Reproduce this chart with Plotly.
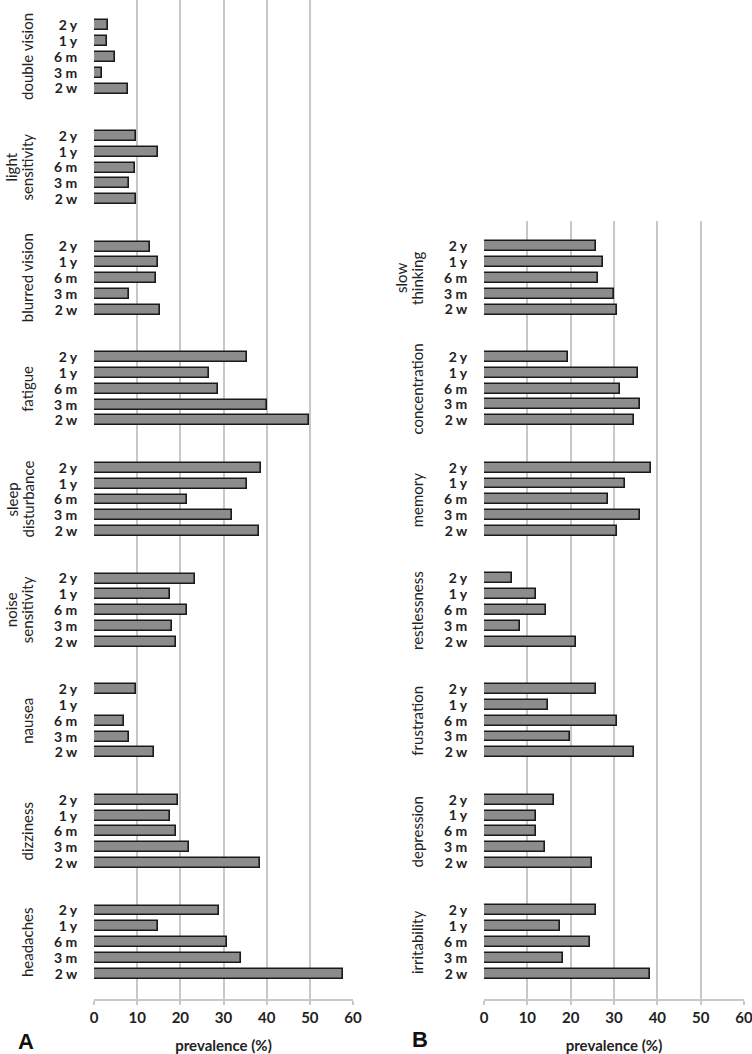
import plotly.graph_objects as go

W, H = 752, 1054
MB = 55
PH = H - MB

timepoints = ["2 w", "3 m", "6 m", "1 y", "2 y"]

# Panel A groups (bottom to top)
groups_a = ["headaches", "dizziness", "nausea", "noise|sensitivity", "sleep|disturbance",
            "fatigue", "blurred vision", "light|sensitivity", "double vision"]
headaches = [57.6, 34.0, 30.9, 14.9, 29.0]
dizziness = [38.4, 22.1, 19.1, 17.5, 19.4]
nausea = [13.8, 8.1, 7.0, 0, 9.7]
noise_sensitivity = [19.1, 18.1, 21.5, 17.5, 23.4]
sleep_disturbance = [38.3, 31.9, 21.5, 35.4, 38.7]
fatigue = [49.9, 40.0, 28.8, 26.6, 35.4]
blurred_vision = [15.4, 8.2, 14.3, 14.9, 13.0]
light_sensitivity = [9.7, 8.2, 9.5, 14.9, 9.7]
double_vision = [7.9, 1.9, 4.9, 3.1, 3.3]
values_a = [headaches, dizziness, nausea, noise_sensitivity, sleep_disturbance,
            fatigue, blurred_vision, light_sensitivity, double_vision]

# Panel B groups (bottom to top)
groups_b = ["irritability", "depression", "frustration", "restlessness", "memory",
            "concentration", "slow|thinking"]
irritability = [38.4, 18.3, 24.5, 17.5, 25.8]
depression = [25.0, 14.0, 11.9, 11.9, 16.2]
frustration = [34.6, 19.8, 30.8, 14.8, 25.8]
restlessness = [21.2, 8.2, 14.3, 11.9, 6.5]
memory = [30.8, 36.0, 28.7, 32.5, 38.6]
concentration = [34.6, 36.0, 31.4, 35.5, 19.4]
slow_thinking = [30.8, 30.0, 26.3, 27.4, 25.8]
values_b = [irritability, depression, frustration, restlessness, memory,
            concentration, slow_thinking]

x_ticks = [0, 10, 20, 30, 40, 50, 60]
x_title = "prevalence (%)"

STEP = 7
FONT = "Lato"


def px_x(p):
    return p / W


def px_y(p):
    return (PH - p) / PH


fig = go.Figure()


def add_panel(groups, values, xa, ya):
    ys, xs, tv, tt = [], [], [], []
    for g, vals in enumerate(values):
        for k, v in enumerate(vals):
            pos = g * STEP + k
            ys.append(pos)
            xs.append(v)
            tv.append(pos)
            tt.append(timepoints[k])
    fig.add_trace(go.Bar(
        x=xs, y=ys, orientation="h", width=0.63,
        marker=dict(color="#8c8c8c", line=dict(color="#1a1a1a", width=1.6)),
        xaxis=xa, yaxis=ya, showlegend=False, hoverinfo="x+y",
    ))
    for g, name in enumerate(groups):
        lines = name.split("|")
        n = len(lines)
        for i, line in enumerate(lines):
            fig.add_annotation(
                text=line, textangle=-90, showarrow=False,
                xref=xa + " domain", x=0.0, yref=ya, y=g * STEP + 2,
                xanchor="right", yanchor="middle", xshift=-56 - 16 * (n - 1 - i),
                font=dict(family=FONT, size=15, color="#222"),
            )
    return tv, tt


tva, tta = add_panel(groups_a, values_a, "x", "y")
tvb, ttb = add_panel(groups_b, values_b, "x2", "y2")

top_a = (len(groups_a) - 1) * STEP + 4
top_b = (len(groups_b) - 1) * STEP + 4

common_x = dict(
    range=[0, 60], tickvals=x_ticks, showgrid=True, gridcolor="#c8c8c8", gridwidth=1.5,
    zeroline=False, showline=True, linecolor="#c8c8c8", linewidth=1.5,
    ticks="outside", ticklen=4, tickcolor="#c8c8c8", tickwidth=1.5,
    tickfont=dict(family=FONT, size=15, color="#222", weight=700),
    ticklabeloverflow="allow",
    title=dict(text=x_title, font=dict(family=FONT, size=15, color="#222", weight=700), standoff=17),
    fixedrange=True, automargin=False,
)
common_y = dict(
    ticks="outside", ticklen=13, tickcolor="rgba(0,0,0,0)", showgrid=False, zeroline=False,
    showline=False, tickfont=dict(family=FONT, size=14, color="#222", weight=700),
    fixedrange=True, automargin=False,
)

fig.update_layout(
    width=W, height=H,
    margin=dict(l=0, r=0, t=0, b=MB, autoexpand=False),
    paper_bgcolor="white", plot_bgcolor="white",
    xaxis=dict(domain=[px_x(94), px_x(353)], anchor="y", **common_x),
    yaxis=dict(domain=[0, 1], anchor="x", range=[-1.6, top_a + 1.6],
               tickvals=tva, ticktext=tta, **common_y),
    xaxis2=dict(domain=[px_x(484), px_x(744)], anchor="y2", **common_x),
    yaxis2=dict(domain=[0, (999 - 221) / PH], anchor="x2", range=[-1.6, top_b + 1.6],
                tickvals=tvb, ticktext=ttb, **common_y),
    bargap=0,
)

fig.add_annotation(text="A", xref="paper", yref="paper", x=px_x(16), y=px_y(1041),
                   xanchor="left", yanchor="middle", showarrow=False,
                   font=dict(family="Liberation Sans", size=22, color="#111", weight=700))
fig.add_annotation(text="B", xref="paper", yref="paper", x=px_x(410), y=px_y(1039),
                   xanchor="left", yanchor="middle", showarrow=False,
                   font=dict(family="Liberation Sans", size=22, color="#111", weight=700))

fig.write_html("out.html", config={"displayModeBar": False},
               post_script="document.body.style.margin='0';document.body.style.overflow='hidden';")
